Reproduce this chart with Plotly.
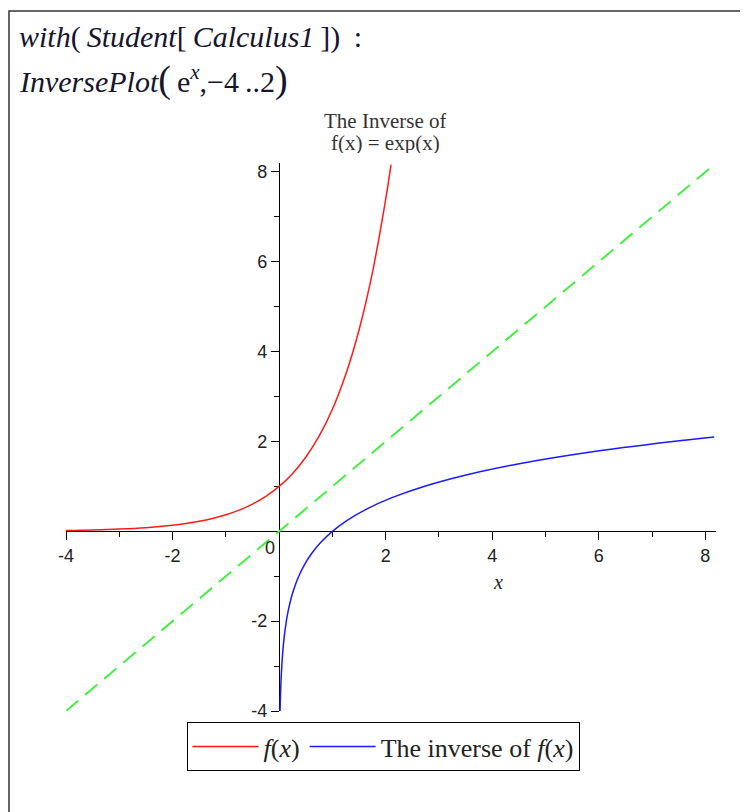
import plotly.graph_objects as go

# ---- data ----
f_x = [-4, -3.5, -3, -2.5, -2, -1.75, -1.5, -1.25, -1, -0.75, -0.5, -0.25,
       0, 0.25, 0.5, 0.75, 1, 1.25, 1.5, 1.75, 2, 2.1]
f_y = [0.018, 0.030, 0.050, 0.082, 0.135, 0.174, 0.223, 0.287, 0.368, 0.472,
       0.607, 0.779, 1.0, 1.284, 1.649, 2.117, 2.718, 3.490, 4.482, 5.755,
       7.389, 8.166]

inv_x = [0.018, 0.030, 0.050, 0.082, 0.135, 0.174, 0.223, 0.287, 0.368, 0.472,
         0.607, 0.779, 1.0, 1.284, 1.649, 2.117, 2.718, 3.490, 4.482, 5.755,
         7.389, 8.166]
inv_y = [-4, -3.5, -3, -2.5, -2, -1.75, -1.5, -1.25, -1, -0.75, -0.5, -0.25,
         0, 0.25, 0.5, 0.75, 1, 1.25, 1.5, 1.75, 2, 2.1]

diag_x = [-4, 8.1]
diag_y = [-4, 8.1]

x_range = [-4, 8.2]
y_range = [-4, 8.2]
x_major = [-4, -2, 2, 4, 6, 8]
x_major_text = ["-4", "-2", "2", "4", "6", "8"]
x_minor = [-3, -1, 1, 3, 5, 7]
y_major = [-4, -2, 2, 4, 6, 8]
y_major_text = ["-4", "-2", "2", "4", "6", "8"]
y_minor = [-3, -1, 1, 3, 5, 7]

legend_names = ["<i>f</i>(<i>x</i>)", "The inverse of <i>f</i>(<i>x</i>)"]
title_lines = ["The Inverse of", "f(x) = exp(x)"]

# ---- layout geometry (page px; the page body has an 8px margin) ----
OFF = 8
W, H = 748 - OFF, 812 - OFF
ML, MR, MT, MB = 66 - OFF, 32, 163 - OFF, 101
PW, PH = W - ML - MR, H - MT - MB


def px_x(p):
    return (p - OFF - ML) / PW


def px_y(p):
    return (H - MB - (p - OFF)) / PH


serif = "Liberation Serif, Times New Roman, serif"
sans = "Liberation Sans, Arial, sans-serif"

fig = go.Figure()
fig.add_trace(go.Scatter(x=diag_x, y=diag_y, mode="lines", showlegend=False,
                         line=dict(color="#44ee44", width=2, dash="16px,9px")))
fig.add_trace(go.Scatter(x=f_x, y=f_y, mode="lines", name=legend_names[0],
                         line=dict(color="#ff1a1a", width=1.5, shape="spline")))
fig.add_trace(go.Scatter(x=inv_x, y=inv_y, mode="lines", name=legend_names[1],
                         line=dict(color="#1a1aff", width=1.5, shape="spline")))

xpos = (0 - y_range[0]) / (y_range[1] - y_range[0])
ypos = (0 - x_range[0]) / (x_range[1] - x_range[0])

axis_common = dict(showgrid=False, zeroline=False, showline=True,
                   linecolor="black", linewidth=1.3, anchor="free",
                   ticks="outside", ticklen=8, tickwidth=1.3, tickcolor="black",
                   tickfont=dict(family=sans, size=18, color="#222"),
                   layer="below traces", fixedrange=True)

fig.update_layout(
    width=W, height=H, autosize=False,
    margin=dict(l=ML, r=MR, t=MT, b=MB),
    paper_bgcolor="white", plot_bgcolor="white",
    xaxis=dict(range=x_range, position=xpos,
               tickvals=x_major, ticktext=x_major_text,
               minor=dict(tickvals=x_minor, ticks="outside", ticklen=5,
                          tickwidth=1, tickcolor="black"),
               **axis_common),
    yaxis=dict(range=y_range, position=ypos,
               tickvals=y_major, ticktext=y_major_text,
               minor=dict(tickvals=y_minor, ticks="outside", ticklen=5,
                          tickwidth=1, tickcolor="black"),
               **axis_common),
    legend=dict(orientation="h", x=px_x(383), xanchor="center",
                y=px_y(722), yanchor="top", itemwidth=66,
                bordercolor="black", borderwidth=1, bgcolor="white",
                font=dict(family=serif, size=26, color="#222")),
    showlegend=True,
)

# plot title (two lines, Maple spacing)
for text, yc in zip(title_lines, [121, 143]):
    fig.add_annotation(x=px_x(385), y=px_y(yc), xref="paper", yref="paper",
                       xanchor="center", yanchor="middle", showarrow=False,
                       text=text, height=21, borderpad=0,
                       font=dict(family=serif, size=21, color="#333333"))

# shared origin label and axis label
fig.add_annotation(x=0, y=0, xref="x", yref="y", text="0", showarrow=False,
                   xanchor="right", yanchor="top", xshift=-2, yshift=-5,
                   font=dict(family=sans, size=18, color="#222"))
fig.add_annotation(x=(0 + x_range[1]) / 2, y=0, xref="x", yref="y",
                   text="<i>x</i>", showarrow=False, yshift=-51,
                   font=dict(family=serif, size=20, color="#222"))

# worksheet input lines
big = '<span style="font-size:38px">'
ts = "\u2009"
fig.add_annotation(x=px_x(17), y=px_y(37), xref="paper", yref="paper",
                   xanchor="left", yanchor="middle", showarrow=False,
                   text="<i>with</i>(" + ts + "<i>Student</i>[" + ts + "<i>Calculus1</i>" + ts + "])" + ts + " :",
                   font=dict(family=serif, size=30, color="#15152e"))
fig.add_annotation(x=px_x(17), y=px_y(79), xref="paper", yref="paper",
                   xanchor="left", yanchor="middle", showarrow=False,
                   text="<i>InversePlot</i>" + big + "(</span>" + ts + "e<sup><i>x</i></sup>,−4" + ts + "..2" + big + ")</span>",
                   font=dict(family=serif, size=30, color="#15152e"))

# worksheet frame
fig.add_shape(type="rect", xref="paper", yref="paper",
              x0=px_x(9), x1=px_x(770), y0=px_y(11), y1=px_y(830),
              line=dict(color="#333333", width=1.5), fillcolor="rgba(0,0,0,0)",
              layer="below")

fig.write_html("out.html")
